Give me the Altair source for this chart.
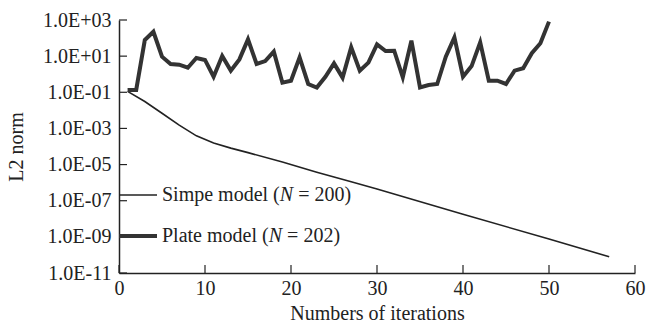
import altair as alt
import pandas as pd

# ---- data ----
plate_iter = list(range(1, 51))
plate_l2 = [0.132, 0.135, 77.6, 224, 9.33, 3.67, 3.39, 2.29, 7.94, 6.17,
            0.724, 10.2, 1.58, 6.61, 85.1, 3.67, 5.37, 17.8, 0.339, 0.437,
            8.51, 0.288, 0.182, 0.724, 3.98, 0.646, 30.9, 1.58, 4.37, 44.7,
            19.1, 20.0, 0.676, 72.4, 0.186, 0.251, 0.288, 9.33, 110, 0.724,
            2.82, 57.5, 0.437, 0.437, 0.288, 1.58, 2.14, 14.5, 51.3, 813]
simple_iter = [1, 3, 5, 7, 9, 11, 13, 15, 19, 23, 27, 30, 40, 50, 57]
simple_l2 = [1.12e-1, 3.09e-2, 6.92e-3, 1.51e-3, 3.89e-4, 1.55e-4, 8.13e-5,
             4.57e-5, 1.38e-5, 3.80e-6, 1.12e-6, 4.47e-7, 1.78e-8, 7.59e-10,
             7.94e-11]
x_tick_values = [0, 10, 20, 30, 40, 50, 60]
y_tick_values = [1e3, 1e1, 1e-1, 1e-3, 1e-5, 1e-7, 1e-9, 1e-11]

legend_simple = ["Simpe model (", "N", "= 200)"]
legend_plate = ["Plate model (", "N", "= 202)"]

FONT = "Liberation Serif"
FS = 20
W, H = 516, 253
INK = "#222222"

plate_df = pd.DataFrame({"iter": plate_iter, "l2": plate_l2})
simple_df = pd.DataFrame({"iter": simple_iter, "l2": simple_l2})
xt_df = pd.DataFrame({"v": x_tick_values})
yt_df = pd.DataFrame({"v": y_tick_values})
one = pd.DataFrame({"a": [0]})

xs = alt.Scale(domain=[0, 60], nice=False, zero=False)
ys = alt.Scale(type="log", domain=[1e-11, 1e3], nice=False)

label_expr = ("'1.0E' + (datum.value >= 1 ? '+' : '-') + "
              "(abs(round(log(datum.value)/LN10)) < 10 ? '0' : '') + "
              "abs(round(log(datum.value)/LN10))")

x_axis = alt.Axis(values=x_tick_values, title="Numbers of iterations",
                  ticks=False, grid=False, labelFont=FONT, labelFontSize=FS,
                  titleFont=FONT, titleFontSize=FS, titleFontWeight="normal",
                  labelColor=INK, titleColor=INK, domainColor=INK,
                  domainWidth=1.5, labelPadding=5, titlePadding=5,
                  labelFlush=False)
y_axis = alt.Axis(values=y_tick_values, title="L2 norm", labelExpr=label_expr,
                  ticks=False, grid=False, labelFont=FONT, labelFontSize=FS,
                  titleFont=FONT, titleFontSize=FS, titleFontWeight="normal",
                  labelColor=INK, titleColor=INK, domainColor=INK,
                  domainWidth=1.5, labelPadding=8, titlePadding=16,
                  labelFlush=False)

simple_line = alt.Chart(simple_df).mark_line(color=INK, strokeWidth=1.6).encode(
    x=alt.X("iter:Q", scale=xs, axis=x_axis),
    y=alt.Y("l2:Q", scale=ys, axis=y_axis),
)
plate_line = alt.Chart(plate_df).mark_line(
    color="#333333", strokeWidth=4, strokeJoin="miter", strokeMiterLimit=4
).encode(
    x=alt.X("iter:Q", scale=xs),
    y=alt.Y("l2:Q", scale=ys),
)

x_ticks = alt.Chart(xt_df).mark_rule(color=INK, strokeWidth=1.2).encode(
    x=alt.X("v:Q", scale=xs), y=alt.value(H), y2=alt.value(H - 8))
y_ticks = alt.Chart(yt_df).mark_rule(color=INK, strokeWidth=1.2).encode(
    y=alt.Y("v:Q", scale=ys), x=alt.value(0), x2=alt.value(8))

LEG_X0, LEG_X1, TXT_X = 0, 38, 43
Y_SIMPLE, Y_PLATE = 175, 216


def legend_text(parts, y):
    w1 = {"Simpe model (": 117.8, "Plate model (": 106.7}[parts[0]]
    t1 = alt.Chart(one).mark_text(text=parts[0], font=FONT, fontSize=FS,
                                  align="left", baseline="middle", color=INK
                                  ).encode(x=alt.value(TXT_X), y=alt.value(y))
    t2 = alt.Chart(one).mark_text(text=parts[1], font=FONT, fontSize=FS,
                                  fontStyle="italic", align="left",
                                  baseline="middle", color=INK
                                  ).encode(x=alt.value(TXT_X + w1), y=alt.value(y))
    t3 = alt.Chart(one).mark_text(text=parts[2], font=FONT, fontSize=FS,
                                  align="left", baseline="middle", color=INK
                                  ).encode(x=alt.value(TXT_X + w1 + 13.4 + 5),
                                           y=alt.value(y))
    return [t1, t2, t3]


leg_simple_line = alt.Chart(one).mark_rule(color=INK, strokeWidth=1.6).encode(
    x=alt.value(LEG_X0), x2=alt.value(LEG_X1), y=alt.value(Y_SIMPLE))
leg_plate_line = alt.Chart(one).mark_rule(color="#333333", strokeWidth=4).encode(
    x=alt.value(LEG_X0), x2=alt.value(LEG_X1), y=alt.value(Y_PLATE))

chart = alt.layer(
    simple_line, plate_line, x_ticks, y_ticks,
    leg_simple_line, leg_plate_line,
    *legend_text(legend_simple, Y_SIMPLE), *legend_text(legend_plate, Y_PLATE),
).properties(
    width=W, height=H,
    autosize=alt.AutoSizeParams(type="none"),
    padding={"left": 119, "top": 20, "right": 13, "bottom": 56},
    background="white",
).configure_view(stroke=None)

chart.save("out.html", embed_options={"renderer": "svg", "actions": False})
